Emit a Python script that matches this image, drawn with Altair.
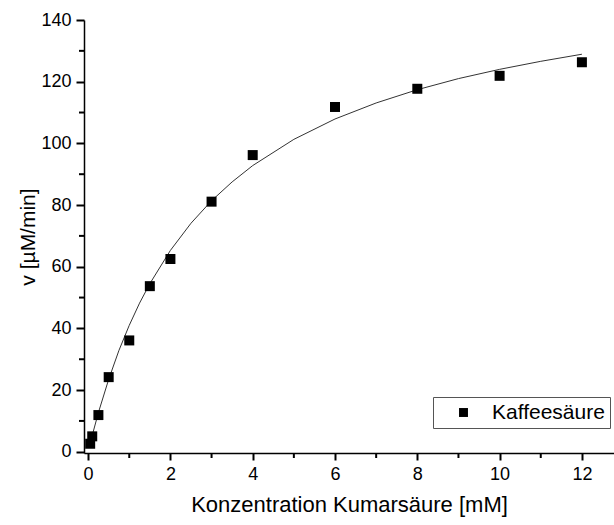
import altair as alt
import pandas as pd

# measured data points
conc = [0.05, 0.1, 0.25, 0.5, 1, 1.5, 2, 3, 4, 6, 8, 10, 12]
rate = [2.6, 5.0, 11.9, 24.2, 36.1, 53.7, 62.5, 81.1, 96.2, 111.8, 117.7, 121.9, 126.3]

# fitted curve
fit_x = [0.05, 0.1, 0.25, 0.5, 0.75, 1, 1.25, 1.5, 2, 2.5, 3, 3.5, 4, 5, 6, 7, 8, 9, 10, 11, 12]
fit_y = [2.7, 5.3, 12.7, 23.5, 32.9, 41.0, 48.2, 54.5, 65.3, 74.1, 81.4, 87.5, 92.8,
         101.3, 107.9, 113.1, 117.4, 121.0, 124.0, 126.6, 128.9]

series_name = "Kaffeesäure"
x_major = [0, 2, 4, 6, 8, 10, 12]
x_minor = [1, 3, 5, 7, 9, 11]
y_major = [0, 20, 40, 60, 80, 100, 120, 140]
y_minor = [10, 30, 50, 70, 90, 110, 130]

pts = pd.DataFrame({"c": conc, "v": rate, "s": [series_name] * len(conc)})
fit = pd.DataFrame({"c": fit_x, "v": fit_y})
xmin_df = pd.DataFrame({"c": x_minor})
ymin_df = pd.DataFrame({"v": y_minor})

W, H = 530, 433
FONT = "Liberation Sans"
xs = alt.Scale(domain=[-0.1, 12.78], nice=False, zero=False)
ys = alt.Scale(domain=[-0.4, 140], nice=False, zero=False)

x_axis = alt.Axis(values=x_major, title="Konzentration Kumarsäure [mM]", grid=False, orient="bottom",
                  ticks=True, tickColor="black", tickWidth=2, tickSize=7,
                  labelPadding=5, titlePadding=11, format="d", titleFontSize=22)
y_axis = alt.Axis(values=y_major, title="v [µM/min]", grid=False, orient="left",
                  ticks=True, tickColor="black", tickWidth=2, tickSize=8,
                  labelPadding=5, titlePadding=2, format="d")

curve = alt.Chart(fit).mark_line(color="#333333", strokeWidth=1).encode(
    x=alt.X("c:Q", scale=xs, axis=x_axis),
    y=alt.Y("v:Q", scale=ys, axis=y_axis),
)

x_minor_ticks = alt.Chart(xmin_df).mark_rule(color="black", strokeWidth=2).encode(
    x=alt.X("c:Q", scale=xs),
    y=alt.value(H),
    y2=alt.value(H + 5),
)

y_minor_ticks = alt.Chart(ymin_df).mark_rule(color="black", strokeWidth=2).encode(
    y=alt.Y("v:Q", scale=ys),
    x=alt.value(-5),
    x2=alt.value(0),
)

points = alt.Chart(pts).mark_point(shape="square", filled=True, size=100, opacity=1).encode(
    x=alt.X("c:Q", scale=xs),
    y=alt.Y("v:Q", scale=ys),
    color=alt.Color("s:N", scale=alt.Scale(range=["black"]),
                    legend=alt.Legend(title=None, orient="none", legendX=349, legendY=377,
                                      strokeColor="#555555", fillColor="white", padding=5,
                                      symbolType="square", symbolSize=80, symbolOffset=15,
                                      labelOffset=18, labelFontSize=21, labelFont=FONT,
                                      labelColor="black")),
)

chart = alt.layer(curve, x_minor_ticks, y_minor_ticks, points).properties(
    width=W, height=H,
    autosize=alt.AutoSizeParams(type="none"),
    padding={"left": 84, "top": 20, "right": 0, "bottom": 72},
    background="white",
).configure_view(stroke=None).configure_axis(
    labelFont=FONT, titleFont=FONT, labelFontSize=18, titleFontSize=21,
    titleFontWeight="normal", labelColor="black", titleColor="black",
    domainColor="black", domainWidth=1.5,
)

chart.save("out.html", embed_options={"renderer": "svg", "actions": False})
